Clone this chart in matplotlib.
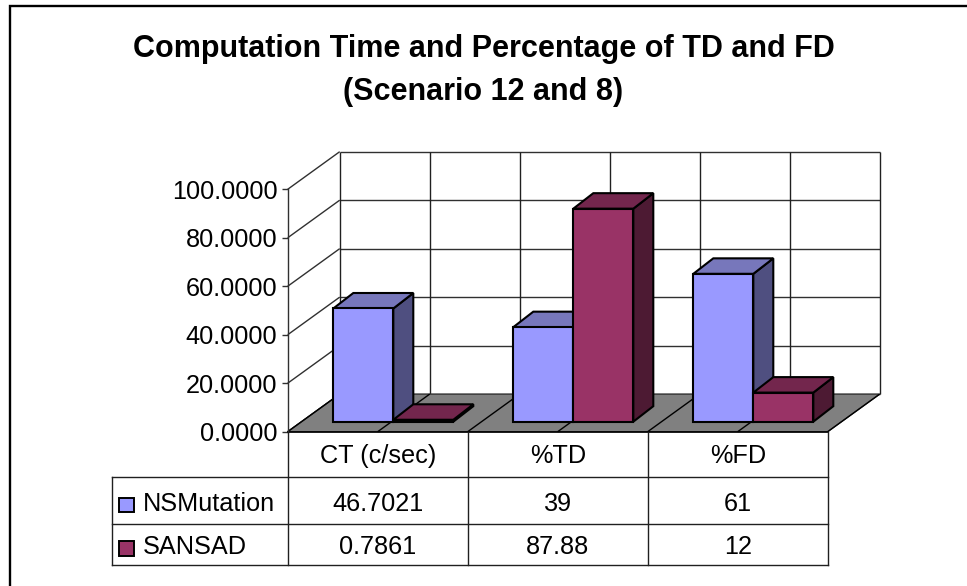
import matplotlib
matplotlib.use("Agg")
import matplotlib.pyplot as plt
from matplotlib.patches import Polygon, Rectangle

plt.rcParams["font.family"] = ["Liberation Sans", "DejaVu Sans"]

CATEGORIES = ["CT (c/sec)", "%TD", "%FD"]
SERIES = ["NSMutation", "SANSAD"]
NSMUTATION = [46.7021, 39, 61]
SANSAD = [0.7861, 87.88, 12]
NSMUTATION_LABELS = ["46.7021", "39", "61"]
SANSAD_LABELS = ["0.7861", "87.88", "12"]
YTICKS = [0, 20, 40, 60, 80, 100]

FACE = ["#9999FF", "#993366"]
TOP = ["#7777BB", "#73264D"]
SIDE = ["#4F4F80", "#4D1A33"]

W, H = 967, 586
# front plane of the plot, in pixels
LEFT, RIGHT, BASE, TOP_Y = 287.7, 827.7, 431.7, 189.3

fig = plt.figure(figsize=(W / 100, H / 100), dpi=100)
ax = fig.add_axes([LEFT / W, 1 - BASE / H, (RIGHT - LEFT) / W, (BASE - TOP_Y) / H])
ax.set_xlim(0, 3)
ax.set_ylim(0, 100)
ax.patch.set_visible(False)

# depth of the box and of a bar, in data units
PX_X = 3 / (RIGHT - LEFT)
PX_Y = 100 / (BASE - TOP_Y)
DX, DY = 52 * PX_X, 37.6 * PX_Y
BAR_DX, BAR_DY = 20 * PX_X, 15.5 * PX_Y
FLOOR_DX, FLOOR_DY = 5.6 * PX_X, 10 * PX_Y
BAR_W = 60 * PX_X
GAP = 40 * PX_X


def poly(pts, fc="none", ec="black", lw=1.5, z=2):
    ax.add_patch(Polygon(pts, closed=True, fc=fc, ec=ec, lw=lw, zorder=z,
                         clip_on=False, joinstyle="miter"))


def line(xs, ys, color="#303030", lw=1.0, z=1):
    ax.plot(xs, ys, color=color, lw=lw, zorder=z, clip_on=False, solid_capstyle="butt")


# walls
for v in YTICKS:
    line([0, DX], [v, v + DY])
    line([DX, 3 + DX], [v + DY, v + DY])
for i in range(7):
    line([i * 0.5 + DX] * 2, [DY, 100 + DY], color="#202020")

# floor
poly([(0, 0), (3, 0), (3 + DX, DY), (DX, DY)], fc="#808080", ec="#303030", lw=0.9, z=1.5)
for i in range(7):
    line([i * 0.5, i * 0.5 + DX], [0, DY], color="black", z=1.6)

# bars
for c in range(len(CATEGORIES)):
    for s, vals in enumerate([NSMUTATION, SANSAD]):
        x0 = c + GAP + FLOOR_DX + s * BAR_W
        x1 = x0 + BAR_W
        y0 = FLOOR_DY
        y1 = y0 + vals[c]
        z = 3 + c + s * 0.1
        poly([(x1, y0), (x1 + BAR_DX, y0 + BAR_DY), (x1 + BAR_DX, y1 + BAR_DY), (x1, y1)], fc=SIDE[s], z=z)
        poly([(x0, y1), (x1, y1), (x1 + BAR_DX, y1 + BAR_DY), (x0 + BAR_DX, y1 + BAR_DY)], fc=TOP[s], z=z)
        poly([(x0, y0), (x1, y0), (x1, y1), (x0, y1)], fc=FACE[s], z=z)

ax.set_yticks(YTICKS)
ax.set_yticklabels(["%.4f" % v for v in YTICKS], fontsize=18.2, color="black")
ax.tick_params(axis="y", length=4.3, width=1.0, pad=3.2, color="#303030")
ax.set_xticks([])
for side in ["top", "right"]:
    ax.spines[side].set_visible(False)
ax.spines["left"].set_color("#303030")
ax.spines["left"].set_linewidth(1.0)
ax.spines["bottom"].set_color("black")
ax.spines["bottom"].set_linewidth(1.2)
ax.spines["bottom"].set_zorder(2)

# page overlay in pixels: frame, title and data table
pg = fig.add_axes([0, 0, 1, 1], zorder=5)
pg.set_xlim(0, W)
pg.set_ylim(H, 0)
pg.axis("off")

# only the left and top edges of the frame are in the picture
pg.plot([10, 10, W], [H, 6, 6], color="black", lw=1.7, solid_joinstyle="miter")

pg.text(483.5, 57, "Computation Time and Percentage of TD and FD", fontsize=22,
        fontweight="bold", ha="center", va="baseline")
pg.text(483.5, 100, "(Scenario 12 and 8)", fontsize=22,
        fontweight="bold", ha="center", va="baseline")

ROWS_Y = [BASE, 477.3, 523.7, 565.3]
COL_X = [LEFT, 467.7, 647.7, RIGHT]
for x in COL_X:
    pg.plot([x, x], [ROWS_Y[0], ROWS_Y[3]], color="#202020", lw=1.0)
pg.plot([111.7, 111.7], [ROWS_Y[1], ROWS_Y[3]], color="#202020", lw=1.0)
for y in ROWS_Y[1:]:
    pg.plot([111.7, RIGHT], [y, y], color="#202020", lw=1.0)

ROW_BASELINE = [462.7, 510.7, 554.3]
for i, cat in enumerate(CATEGORIES):
    xc = (COL_X[i] + COL_X[i + 1]) / 2
    pg.text(xc, ROW_BASELINE[0], cat, fontsize=18.2, ha="center", va="baseline")
    pg.text(xc, ROW_BASELINE[1], NSMUTATION_LABELS[i], fontsize=18.2, ha="center", va="baseline")
    pg.text(xc, ROW_BASELINE[2], SANSAD_LABELS[i], fontsize=18.2, ha="center", va="baseline")

KEY_TOP = [497.7, 541.2]
for s, name in enumerate(SERIES):
    pg.add_patch(Rectangle((119.3, KEY_TOP[s]), 14.5, 14.5, fc=FACE[s], ec="black", lw=1.4))
    pg.text(143, ROW_BASELINE[s + 1], name, fontsize=18.2, ha="left", va="baseline")

fig.savefig("out.png", dpi=100)
